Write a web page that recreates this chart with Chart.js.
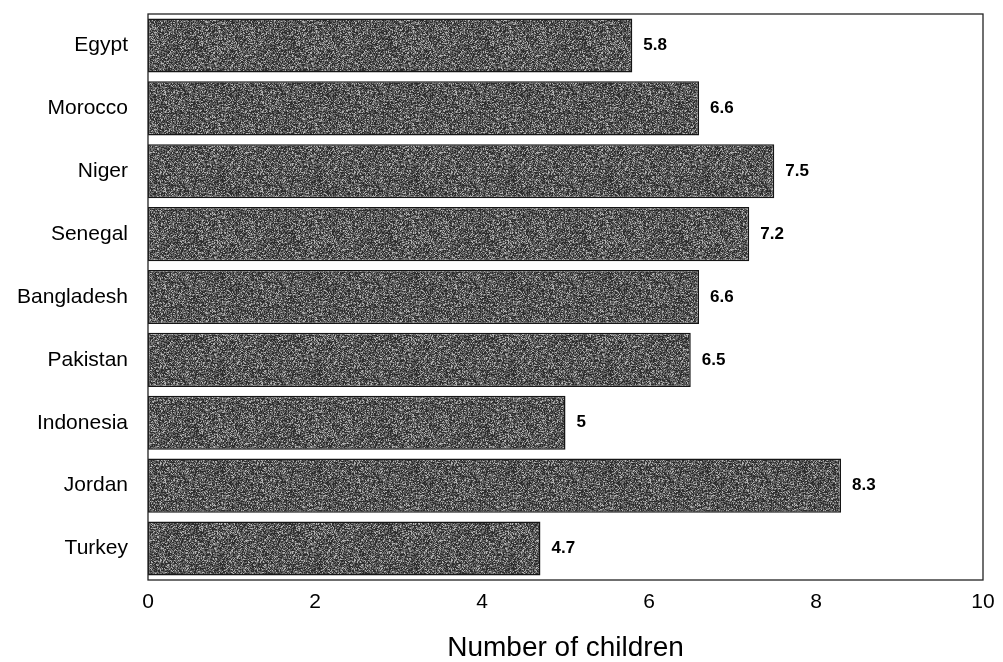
<!DOCTYPE html>
<html>
<head>
<meta charset="utf-8">
<script src="https://cdn.jsdelivr.net/npm/chart.js@4/dist/chart.umd.min.js"></script>
<style>
  html, body { margin: 0; padding: 0; background: #fff; }
  #wrap { width: 1003px; height: 662px; }
</style>
</head>
<body>
<div id="wrap"><canvas id="childrenChart" width="1003" height="662"></canvas></div>
<script>
// Chart data
const countries = ['Egypt', 'Morocco', 'Niger', 'Senegal', 'Bangladesh', 'Pakistan', 'Indonesia', 'Jordan', 'Turkey'];
const children = [5.8, 6.6, 7.5, 7.2, 6.6, 6.5, 5, 8.3, 4.7];
const xTicks = [0, 2, 4, 6, 8, 10];

const FONT = 'Liberation Sans, Arial, Helvetica, sans-serif';

// Grainy grey fill, like the scanned print
function makeGrain() {
    const size = 97;
    const c = document.createElement('canvas');
    c.width = size;
    c.height = size;
    const g = c.getContext('2d');
    const shades = ['#2c2c2c', '#515151', '#777777', '#b2b2b2'];
    for (let y = 0; y < size; y++) {
        for (let x = 0; x < size; x++) {
            let h = Math.imul(x + 1, 0x9E3779B1) ^ Math.imul(y + 7, 0x85EBCA77);
            h ^= h >>> 15;
            h = Math.imul(h, 0x2C1B3C6D);
            h ^= h >>> 12;
            const k = (h >>> 0) % 16;
            g.fillStyle = shades[k < 5 ? 0 : k < 10 ? 1 : k < 14 ? 2 : 3];
            g.fillRect(x, y, 1, 1);
        }
    }
    return g.createPattern(c, 'repeat');
}

// Box around the plot area
const frame = {
    id: 'frame',
    afterDraw(chart) {
        const { ctx, chartArea: a } = chart;
        ctx.save();
        ctx.strokeStyle = '#222';
        ctx.lineWidth = 1.3;
        ctx.strokeRect(a.left, a.top, a.right - a.left, a.bottom - a.top);
        ctx.restore();
    }
};

// Value next to each bar
const valueLabels = {
    id: 'valueLabels',
    afterDatasetsDraw(chart) {
        const { ctx } = chart;
        const meta = chart.getDatasetMeta(0);
        ctx.save();
        ctx.fillStyle = '#000';
        ctx.font = 'bold 17px ' + FONT;
        ctx.textAlign = 'left';
        ctx.textBaseline = 'middle';
        meta.data.forEach((bar, i) => {
            ctx.fillText(String(children[i]), bar.x + 11, bar.y);
        });
        ctx.restore();
    }
};

new Chart(document.getElementById('childrenChart').getContext('2d'), {
    type: 'bar',
    data: {
        labels: countries,
        datasets: [{
            data: children,
            backgroundColor: makeGrain(),
            borderColor: '#151515',
            borderWidth: 1.5,
            borderSkipped: false,
            barPercentage: 0.86,
            categoryPercentage: 1
        }]
    },
    options: {
        indexAxis: 'y',
        responsive: false,
        animation: false,
        layout: {
            padding: { top: 14, right: 20, bottom: 0, left: 0 }
        },
        plugins: {
            legend: { display: false },
            tooltip: { enabled: false }
        },
        scales: {
            x: {
                min: 0,
                max: 10,
                afterBuildTicks(scale) {
                    scale.ticks = xTicks.map(v => ({ value: v }));
                },
                afterFit(scale) {
                    scale.height = 82;
                    scale.paddingLeft = 0;
                    scale.paddingRight = 0;
                },
                grid: { display: false, drawTicks: false },
                border: { display: false },
                ticks: {
                    color: '#000',
                    padding: 10,
                    font: { family: FONT, size: 21 }
                },
                title: {
                    display: true,
                    text: 'Number of children',
                    color: '#000',
                    padding: 0,
                    font: { family: FONT, size: 28, lineHeight: 1 }
                }
            },
            y: {
                afterFit(scale) {
                    scale.width = 148;
                    scale.paddingTop = 0;
                    scale.paddingBottom = 0;
                },
                grid: { display: false, drawTicks: false },
                border: { display: false },
                ticks: {
                    color: '#000',
                    padding: 20,
                    font: { family: FONT, size: 21 }
                }
            }
        }
    },
    plugins: [frame, valueLabels]
});
</script>
</body>
</html>
